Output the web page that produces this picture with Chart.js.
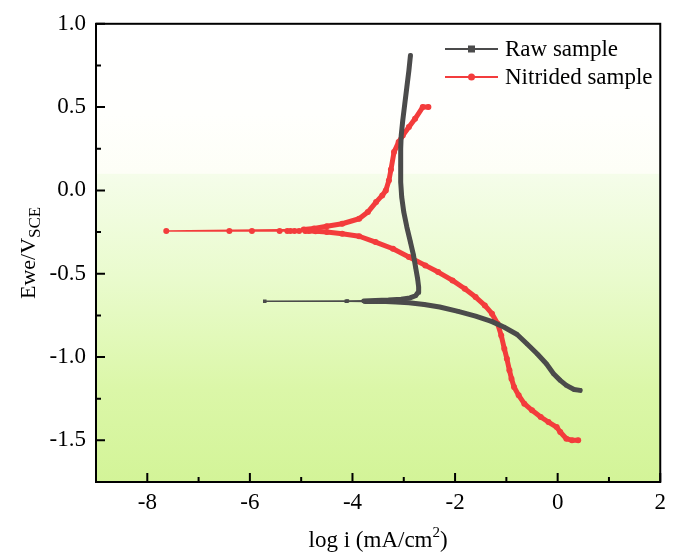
<!DOCTYPE html>
<html>
<head>
<meta charset="utf-8">
<script src="https://cdn.jsdelivr.net/npm/chart.js@4"></script>
<style>
  body { margin: 0; background: #fff; }
  canvas { display: block; }
</style>
</head>
<body>
<canvas id="tafel" width="673" height="557"></canvas>
<script>
"use strict";

// --- data ---
const xTicks = [-8, -6, -4, -2, 0, 2];
const yTicks = [-1.5, -1.0, -0.5, 0.0, 0.5, 1.0];

// Raw sample: cathodic end -> Ecorr -> anodic top
const rawX = [0.44, 0.32, 0.17, 0.05, -0.08, -0.22, -0.40, -0.60, -0.79, -1.05, -1.29, -1.60, -1.94, -2.30, -2.60, -2.90, -3.15, -3.35, -3.50, -3.62, -3.75, -4.12, -5.71,
              -4.10, -3.78, -3.55, -3.30, -3.05, -2.88, -2.77, -2.72, -2.71, -2.73, -2.77, -2.81, -2.87, -2.94, -3.00, -3.04, -3.06, -3.06, -3.06, -3.05, -3.02, -2.98, -2.94, -2.90, -2.87];
const rawY = [-1.20, -1.195, -1.17, -1.14, -1.10, -1.04, -0.98, -0.92, -0.865, -0.82, -0.786, -0.755, -0.726, -0.70, -0.685, -0.674, -0.669, -0.667, -0.666, -0.666, -0.666, -0.665, -0.665,
              -0.664, -0.663, -0.661, -0.658, -0.653, -0.645, -0.632, -0.612, -0.58, -0.53, -0.46, -0.39, -0.31, -0.22, -0.13, -0.04, 0.05, 0.15, 0.25, 0.33, 0.42, 0.52, 0.62, 0.72, 0.81];

// Nitrided sample
const nitX = [0.40, 0.28, 0.17, 0.05, -0.02, -0.18, -0.33, -0.50, -0.65, -0.76, -0.85, -0.90, -0.94, -0.99, -1.04, -1.10, -1.17, -1.28, -1.42, -1.60, -1.81, -2.05, -2.33, -2.58, -2.90, -3.21, -3.55, -3.87, -4.20, -4.50, -4.72, -4.85,
              -4.92, -5.04, -5.13, -5.21, -5.27, -5.42, -5.96, -6.40, -7.63,
              -4.95, -4.75, -4.50, -4.20, -3.87, -3.70, -3.54, -3.42, -3.35, -3.29, -3.25, -3.19, -3.10, -3.02, -2.90, -2.78, -2.63, -2.52];
const nitY = [-1.50, -1.50, -1.49, -1.45, -1.42, -1.39, -1.36, -1.32, -1.28, -1.23, -1.18, -1.13, -1.08, -1.01, -0.95, -0.87, -0.80, -0.74, -0.69, -0.64, -0.59, -0.54, -0.49, -0.45, -0.40, -0.35, -0.31, -0.275, -0.26, -0.25, -0.245, -0.243,
              -0.243, -0.243, -0.243, -0.243, -0.243, -0.243, -0.243, -0.243, -0.244,
              -0.235, -0.228, -0.215, -0.20, -0.17, -0.13, -0.07, -0.03, 0.00, 0.06, 0.125, 0.23, 0.29, 0.33, 0.38, 0.43, 0.50, 0.50];

const seriesNames = ['Raw sample', 'Nitrided sample'];

const toPoints = (xs, ys) => xs.map((x, i) => ({x: x, y: ys[i]}));

// thin line only on the sparse horizontal tail
function segWidth(cut) {
    return function(ctx) {
        if (ctx.p0.parsed.x < cut && ctx.p1.parsed.x < cut) return 1.6;
        return 5;
    };
}

const SERIF = '"Liberation Serif", "Times New Roman", serif';

//背景グラデーション
const bgPlugin = {
    id: 'bg',
    beforeDraw(chart) {
        const {ctx, chartArea: a, scales} = chart;
        const y01 = scales.y.getPixelForValue(0.1);
        ctx.save();
        let g = ctx.createLinearGradient(0, a.top, 0, y01);
        g.addColorStop(0, '#ffffff');
        g.addColorStop(0.6, '#fffffd');
        g.addColorStop(1, '#fdfef6');
        ctx.fillStyle = g;
        ctx.fillRect(a.left, a.top, a.right - a.left, y01 - a.top);
        g = ctx.createLinearGradient(0, y01, 0, a.bottom);
        g.addColorStop(0, '#f5fdea');
        g.addColorStop(0.35, '#e9fbcc');
        g.addColorStop(0.7, '#dbf7a8');
        g.addColorStop(1, '#d3f498');
        ctx.fillStyle = g;
        ctx.fillRect(a.left, y01, a.right - a.left, a.bottom - y01);
        ctx.restore();
    }
};

//枠、目盛り、タイトル、凡例
const framePlugin = {
    id: 'frame',
    afterDraw(chart) {
        const {ctx, chartArea: a, scales} = chart;
        const sx = scales.x, sy = scales.y;
        ctx.save();
        ctx.strokeStyle = '#000';
        ctx.lineWidth = 2;
        ctx.strokeRect(a.left, a.top, a.right - a.left, a.bottom - a.top);

        // inner ticks
        ctx.beginPath();
        xTicks.forEach((v) => {
            const px = sx.getPixelForValue(v);
            ctx.moveTo(px, a.bottom); ctx.lineTo(px, a.bottom - 9);
            const m = v - 1;
            if (m > sx.min) {
                const pm = sx.getPixelForValue(m);
                ctx.moveTo(pm, a.bottom); ctx.lineTo(pm, a.bottom - 5);
            }
        });
        yTicks.forEach((v) => {
            const py = sy.getPixelForValue(v);
            ctx.moveTo(a.left, py); ctx.lineTo(a.left + 9, py);
            const m = v - 0.25;
            if (m > sy.min) {
                const pm = sy.getPixelForValue(m);
                ctx.moveTo(a.left, pm); ctx.lineTo(a.left + 5, pm);
            }
        });
        ctx.stroke();

        // axis titles
        ctx.fillStyle = '#000';
        ctx.textBaseline = 'alphabetic';
        ctx.font = '23px ' + SERIF;
        const xt = 'log i (mA/cm';
        const w1 = ctx.measureText(xt).width;
        const w3 = ctx.measureText(')').width;
        ctx.font = '15px ' + SERIF;
        const w2 = ctx.measureText('2').width;
        let x0 = (a.left + a.right) / 2 - (w1 + w2 + w3) / 2;
        ctx.font = '23px ' + SERIF;
        ctx.fillText(xt, x0, 547);
        ctx.fillText(')', x0 + w1 + w2, 547);
        ctx.font = '15px ' + SERIF;
        ctx.fillText('2', x0 + w1, 537);

        ctx.save();
        ctx.translate(35, (a.top + a.bottom) / 2);
        ctx.rotate(-Math.PI / 2);
        ctx.font = '22px ' + SERIF;
        const yt = 'Ewe/V';
        const v1 = ctx.measureText(yt).width;
        ctx.font = '17px ' + SERIF;
        const v2 = ctx.measureText('SCE').width;
        const s0 = -(v1 + v2) / 2;
        ctx.font = '22px ' + SERIF;
        ctx.fillText(yt, s0, 0);
        ctx.font = '17px ' + SERIF;
        ctx.fillText('SCE', s0 + v1, 5);
        ctx.restore();

        // legend
        ctx.font = '23px ' + SERIF;
        ctx.textBaseline = 'middle';
        chart.data.datasets.forEach((ds, i) => {
            const ly = 49 + i * 28;
            ctx.strokeStyle = ds.borderColor;
            ctx.lineWidth = 2;
            ctx.beginPath();
            ctx.moveTo(445, ly); ctx.lineTo(498, ly);
            ctx.stroke();
            ctx.fillStyle = ds.borderColor;
            if (ds.pointStyle === 'rect') {
                ctx.fillRect(468, ly - 3.5, 7, 7);
            } else {
                ctx.beginPath();
                ctx.arc(471.5, ly, 3.5, 0, Math.PI * 2);
                ctx.fill();
            }
            ctx.fillStyle = '#000';
            ctx.fillText(ds.label, 505, ly + 1);
        });
        ctx.restore();
    }
};

const tickFont = {family: SERIF, size: 23};

let chart = new Chart(document.getElementById('tafel'), {
    type: 'scatter',
    data: {
        datasets: [{
            label: seriesNames[0],
            data: toPoints(rawX, rawY),
            showLine: true,
            borderColor: '#4b4b4b',
            backgroundColor: '#4b4b4b',
            pointStyle: 'rect',
            pointRadius: 2.5,
            pointBorderWidth: 0,
            borderJoinStyle: 'round',
            borderCapStyle: 'round',
            segment: {borderWidth: segWidth(-3.7)},
        }, {
            label: seriesNames[1],
            data: toPoints(nitX, nitY),
            showLine: true,
            borderColor: '#f33c3c',
            backgroundColor: '#f33c3c',
            pointStyle: 'circle',
            pointRadius: 3,
            pointBorderWidth: 0,
            borderJoinStyle: 'round',
            borderCapStyle: 'round',
            segment: {borderWidth: segWidth(-4.9)},
        }]
    },
    options: {
        responsive: false,
        animation: false,
        layout: {padding: {top: 21, right: 5, left: 0, bottom: 0}},
        plugins: {
            legend: {display: false},
            tooltip: {enabled: false},
        },
        scales: {
            x: {
                type: 'linear',
                min: -9,
                max: 2,
                afterBuildTicks: (s) => { s.ticks = xTicks.map(v => ({value: v})); },
                afterFit: (s) => { s.height = 75; },
                grid: {display: false, drawTicks: false},
                border: {display: false},
                ticks: {
                    color: '#000',
                    font: tickFont,
                    padding: 7,
                    maxRotation: 0,
                    callback: (v) => String(v),
                },
            },
            y: {
                type: 'linear',
                min: -1.75,
                max: 1.0,
                afterBuildTicks: (s) => { s.ticks = yTicks.map(v => ({value: v})); },
                afterFit: (s) => { s.width = 96; },
                grid: {display: false, drawTicks: false},
                border: {display: false},
                ticks: {
                    color: '#000',
                    font: tickFont,
                    padding: 10,
                    callback: (v) => Number(v).toFixed(1),
                },
            },
        },
    },
    plugins: [bgPlugin, framePlugin],
});
</script>
</body>
</html>
